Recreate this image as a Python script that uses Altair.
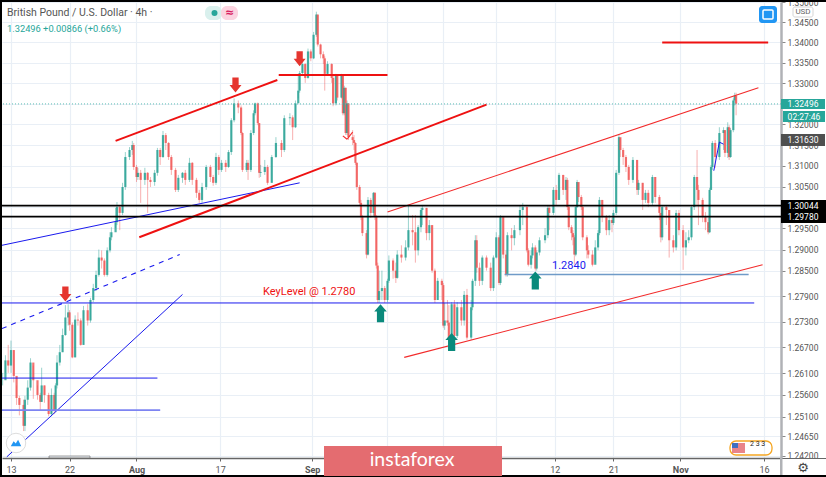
import altair as alt
import pandas as pd

# 4h bar number (0 = 13 Jul)
bars = [-6,-4,-2,0,2,4,6,9,10,12,14,16,19,21,22,24,27,29,31,32,33,35,37,39,41,42,44,46,48,50,52,55,57,59,61,63,65,67,69,71,72,75,76,78,80,82,85,87,88,90,91,93,96,98,100,103,105,107,109,111,113,115,118,120,123,125,128,130,133,135,137,140,143,145,147,149,151,154,156,158,160,163,165,166,169,170,172,174,175,177,178,179,182,184,187,190,194,196,200,202,204,206,207,209,211,213,215,217,219,220,222,224,225,227,230,231,233,234,237,238,239,240,241,242,245,246,247,248,250,251,252,255,256,258,260,261,262,263,264,266,268,270,271,274,276,277,280,283,285,288,290,292,294,295,298,300,302,304,306,309,310,311,313,314,316,318,320,323,325,327,330,331,333,334,336,338,341,344,346,348,350,351,353,355,356,359,361,365,367,370,371,373,374,376,377,379,383,385,386,389,391,393,396,398,399,400,402,403,404,405,406,407,409,410,413,414,417,419,421,422,424,427,429,431,432,434,436,437,439,441,443,446,449,450,453,455,457,460,462,465,466,467,470,472,475,477,479,482,484,486,488,490,492,493,496,498,500,501,502,503,505,508,511,512,514,515,516,518,519,520]
closes = [12594,12640,12628,12664,12604,12553,12537,12489,12549,12577,12635,12594,12560,12544,12582,12560,12516,12560,12525,12582,12635,12659,12699,12740,12752,12723,12647,12735,12733,12676,12757,12733,12781,12809,12840,12881,12874,12840,12898,12929,12941,12965,13001,12987,13049,13121,13138,13150,13097,13073,13083,13066,13083,13066,13061,13083,13138,13121,13174,13155,13121,13090,13042,13071,13083,13066,13107,13066,13035,13018,13049,13097,13073,13059,13121,13090,13107,13097,13133,13210,13251,13241,13179,13090,13107,13090,13179,13227,13251,13203,13083,13085,13097,13059,13121,13155,13138,13215,13217,13193,13251,13282,13325,13347,13313,13378,13361,13419,13469,13395,13371,13361,13323,13347,13313,13251,13318,13265,13318,13227,13289,13179,13251,13169,13162,13155,13107,13049,13011,12977,12939,12888,13018,12987,13035,12977,12862,12781,12802,12809,12781,12826,12874,12850,12833,12888,12881,12905,12946,12941,12898,12953,12994,12999,12939,12958,12850,12781,12826,12816,12721,12733,12728,12688,12771,12697,12764,12733,12793,12693,12764,12826,12922,12857,12826,12881,12857,12809,12881,12929,12821,12977,12888,12840,12934,12927,12946,12994,13001,12898,12864,12886,12905,12855,12893,12922,12934,12999,12987,13042,13018,13078,13042,13066,13001,12953,12939,12929,12888,13001,13061,13025,13001,12929,12898,12888,12864,12905,12939,13018,12977,12946,12970,12963,12987,13083,13169,13138,13121,13097,13066,13114,13042,13059,13018,13035,13011,13073,13025,12987,12929,13001,12994,12922,12905,12987,12946,12905,12922,12929,13001,13073,13042,13018,12977,12965,12941,13042,13097,13155,13121,13179,13186,13131,13193,13121,13186,13258,13270,13250]
highs = [12611,12652,12676,12686,12664,12582,12558,12549,12558,12594,12645,12628,12582,12565,12623,12582,12565,12575,12565,12587,12652,12676,12714,12769,12771,12757,12728,12745,12752,12738,12767,12771,12786,12819,12850,12900,12898,12879,12905,12941,12953,12999,13013,13006,13059,13133,13145,13160,13155,13102,13095,13090,13095,13085,13073,13090,13143,13143,13184,13179,13157,13126,13095,13078,13085,13090,13119,13109,13071,13042,13059,13102,13102,13078,13131,13126,13114,13114,13138,13215,13263,13258,13246,13181,13114,13114,13186,13234,13253,13253,13203,13102,13114,13102,13126,13169,13162,13222,13227,13222,13258,13318,13330,13359,13349,13385,13383,13426,13476,13467,13397,13378,13366,13354,13349,13318,13323,13320,13323,13318,13294,13289,13258,13251,13186,13174,13157,13109,13054,13018,12982,12946,13025,13023,13037,13037,12982,12869,12850,12850,12814,12831,12886,12879,12869,12898,12910,12922,13006,12982,12982,12958,12999,13006,12999,12970,12958,12855,12833,12831,12821,12774,12781,12769,12776,12781,12776,12781,12802,12807,12781,12831,12934,12934,12869,12886,12886,12869,12886,12941,12934,12982,12975,12898,12941,12951,12958,13006,13011,13006,12903,12898,12915,12910,12898,12929,12951,13006,13006,13049,13054,13083,13078,13073,13071,13006,12958,12946,12934,13006,13066,13059,13030,13006,12934,12910,12898,12922,12946,13025,13018,12982,12982,12975,12994,13090,13174,13167,13143,13126,13102,13121,13114,13066,13059,13042,13042,13078,13073,13030,12987,13006,13006,12994,12934,12994,12994,12958,12941,12946,13006,13078,13138,13054,13023,12989,12975,13047,13102,13160,13162,13193,13193,13186,13205,13198,13191,13263,13277,13277]
lows = [12582,12611,12611,12611,12589,12537,12513,12477,12477,12537,12570,12551,12549,12525,12544,12542,12511,12511,12516,12520,12575,12628,12659,12697,12721,12709,12645,12647,12721,12674,12676,12721,12728,12776,12802,12836,12855,12836,12836,12893,12922,12951,12958,12946,12982,13042,13114,13126,13090,13061,13066,13011,13054,12987,13049,13052,13076,13102,13119,13138,13114,13078,13037,13037,13059,13054,13061,13054,13023,13011,13011,13042,13061,13052,13054,13078,13085,13085,13095,13126,13205,13227,13174,13085,13085,13066,13085,13174,13222,13198,13071,13073,13078,13054,13059,13119,13121,13133,13198,13162,13191,13263,13277,13318,13301,13311,13354,13359,13414,13390,13361,13347,13282,13318,13301,13244,13246,13258,13263,13222,13222,13174,13174,13162,13150,13138,13102,13042,13006,12970,12932,12879,12886,12975,12980,12970,12855,12774,12774,12781,12774,12776,12821,12831,12821,12831,12869,12874,12898,12910,12869,12886,12941,12958,12922,12922,12845,12774,12781,12781,12716,12711,12721,12681,12688,12688,12692,12721,12721,12688,12688,12757,12814,12845,12814,12816,12850,12802,12802,12879,12816,12816,12879,12836,12836,12898,12910,12934,12958,12893,12860,12855,12879,12850,12850,12886,12915,12927,12946,12982,13006,13018,13030,13018,12994,12946,12922,12910,12864,12884,12999,13013,12994,12922,12879,12879,12860,12869,12898,12934,12965,12934,12934,12941,12958,12982,13078,13121,13102,13085,13054,13059,13030,13030,12994,13011,13001,13006,13011,12970,12917,12922,12958,12881,12893,12898,12934,12852,12886,12915,12922,12994,13006,12958,12965,12946,12936,12939,13042,13090,13095,13114,13138,13121,13119,13114,13119,13181,13246,13222]

# Price scale and tick values
price_ticks = [1.35,1.345,1.34,1.335,1.33,1.325,1.32,1.315,1.31,1.305,1.30,1.295,1.29,1.285,1.279,1.273,1.267,1.261,1.256,1.251,1.2465,1.242]
covered_prices = [1.325, 1.30]
time_ticks = [0,42,90,150,216,270,310,348,390,432,480,540]
time_labels = ["13","22","Aug","17","Sep","","","","12","21","Nov","16"]

# Drawn lines: bar start, bar end, price start, price end
thick_red = {"b1":[75,192,92,467],"b2":[191,270,341,543],"p1":[1.3160,1.3320,1.2929,1.3400],"p2":[1.3308,1.3320,1.3248,1.3400]}
thin_red = {"b1":[270,282,238,241],"b2":[536,539,241,245],"p1":[1.2989,1.2647,1.3172,1.3164],"p2":[1.3289,1.2864,1.3164,1.3181]}
thin_blue = {"b1":[-6.5,-3,-6.5,-6.5,504,508],"b2":[207,123,533,105,508,511],"p1":[1.2910,1.2418,1.2774,1.2599,1.3088,1.3157],"p2":[1.3059,1.2794,1.2774,1.2599,1.3157,1.3152]}
dashed_blue = {"b1":[-6.5],"b2":[121],"p1":[1.2714],"p2":[1.2888]}
pale_blue = {"b1":[-6.5],"b2":[107],"p1":[1.2525],"p2":[1.2525]}
steel_blue = {"b1":[354],"b2":[529],"p1":[1.2841],"p2":[1.2841]}
levels = [1.30044, 1.29780]
last_price = [1.32496]

down_arrows = {"b":[161,39,207],"p":[1.3296,1.2795,1.3360]}
up_arrows = {"b":[265,316,376],"p":[1.2750,1.2683,1.2827]}

opens = [closes[0]] + closes[:-1]
df = pd.DataFrame({"bar":bars,"o":opens,"c":closes,"h":highs,"l":lows})
for k in "ochl":
    df[k] = df[k] / 10000
df["dir"] = ["up" if c >= o else "down" for c, o in zip(df.c, df.o)]

xs = alt.Scale(domain=[-6.45,552.2], nice=False, zero=False)
ys = alt.Scale(type="log", domain=[1.24154,1.35], nice=False, zero=False)
col = alt.Color("dir:N", scale=alt.Scale(domain=["up","down"], range=["#1f9e90","#f0504f"]), legend=None)

GRID = "#e9eff6"
order = ",".join(str(v) for v in time_ticks)
names = ",".join("'%s'" % v for v in time_labels)
hidden = "||".join(f"datum.value=={v}" for v in covered_prices)
x_axis = alt.Axis(values=time_ticks, labelExpr=f"[{names}][indexof([{order}],datum.value)]",
                  title=None, grid=True, gridColor=GRID, gridWidth=1.2, tickColor="#666", tickSize=3,
                  domainColor="#666", domainWidth=1.5, labelColor="#555", labelFont="Roboto", labelFontSize=9,
                  labelPadding=4, labelFontWeight={"condition":{"test":"datum.value==90||datum.value==216||datum.value==348||datum.value==480","value":"bold"},"value":"normal"})
y_axis = alt.Axis(orient="right", values=price_ticks, labelExpr=f"({hidden})?'':format(datum.value,'.5f')", title=None, grid=True, gridColor=GRID, gridWidth=1,
                  tickColor="#888", tickSize=4, domainColor="#b0b2b6", domainWidth=2.5, labelColor="#555",
                  labelFont="Roboto", labelFontSize=8.5, labelPadding=2)

wicks = alt.Chart(df).mark_rule(strokeWidth=1, opacity=0.45, clip=True).encode(
    x=alt.X("bar:Q", scale=xs, axis=x_axis), y=alt.Y("h:Q", scale=ys, axis=y_axis), y2="l:Q", color=col)
bodies = alt.Chart(df).mark_rule(strokeWidth=2.2, opacity=0.8, clip=True).encode(
    x=alt.X("bar:Q", scale=xs, axis=x_axis), y=alt.Y("o:Q", scale=ys, axis=y_axis), y2="c:Q", color=col)

def trend(data, colour, width, **kw):
    return alt.Chart(pd.DataFrame(data)).mark_rule(color=colour, strokeWidth=width, clip=True, **kw).encode(
        x=alt.X("b1:Q", scale=xs, axis=x_axis), x2="b2:Q", y=alt.Y("p1:Q", scale=ys, axis=y_axis), y2="p2:Q")

def hline(values, colour, width, **kw):
    return alt.Chart(pd.DataFrame({"p":values})).mark_rule(color=colour, strokeWidth=width, **kw).encode(
        y=alt.Y("p:Q", scale=ys, axis=y_axis))

DOWN = "M-0.42,-1 L0.42,-1 L0.42,0 L0.8,0 L0,1 L-0.8,0 L-0.42,0 Z"
UP = "M0,-1 L0.7,-0.2 L0.4,-0.2 L0.4,1 L-0.4,1 L-0.4,-0.2 L-0.7,-0.2 Z"

def arrows(data, shape, colour, size):
    return alt.Chart(pd.DataFrame(data)).mark_point(shape=shape, filled=True, color=colour, opacity=1, size=size).encode(
        x=alt.X("b:Q", scale=xs, axis=x_axis), y=alt.Y("p:Q", scale=ys, axis=y_axis))

# Page furniture, placed in page pixels; the plot area starts at (2, 2)
OX, OY = 2, 2

def box(x0, y0, x1, y1, fill=None, stroke=None, sw=1, radius=0, op=1):
    kw = {}
    if fill: kw["fill"] = fill
    else: kw["fillOpacity"] = 0
    if stroke:
        kw["stroke"] = stroke; kw["strokeWidth"] = sw
    return alt.Chart().mark_rect(cornerRadius=radius, opacity=op, **kw).encode(
        x=alt.value(x0-OX), x2=alt.value(x1-OX), y=alt.value(y0-OY), y2=alt.value(y1-OY))

def label(txt, x, y, size=9, colour="#555", align="left", font="Roboto", weight="normal"):
    return alt.Chart().mark_text(text=txt, align=align, baseline="middle", fontSize=size, color=colour, font=font, fontWeight=weight).encode(
        x=alt.value(x-OX), y=alt.value(y-OY))

def glyph(x, y, shape, size, fill, stroke=None, sw=1):
    kw = {"stroke": stroke, "strokeWidth": sw} if stroke else {}
    return alt.Chart().mark_point(shape=shape, filled=True, fill=fill, size=size, opacity=1, **kw).encode(
        x=alt.value(x-OX), y=alt.value(y-OY))

TEAL = "#26a69a"
layers = [
    wicks, bodies,
    hline(last_price, "#5cbdb3", 1, strokeDash=[1,2]),
    trend(thin_blue, "#1a1aee", 1),
    trend(dashed_blue, "#1a1aee", 1.1, strokeDash=[5,5]),
    trend(pale_blue, "#7d84f2", 1.8),
    trend(steel_blue, "#6f9bc8", 1.6),
    trend(thin_red, "#f22a2a", 1.1),
    trend(thick_red, "#ee1111", 2),
    hline(levels, "#000000", 1.8),
    arrows(down_arrows, DOWN, "#e5352f", 225),
    arrows(up_arrows, UP, "#0a8a7c", 324),
    label("KeyLevel @ 1.2780", 263, 292, 11, "#ee1111"),
    label("1.2840", 552, 266, 11, "#1a1aee"),
    label("British Pound / U.S. Dollar · 4h ·", 7, 13, 10.5, "#555"),
    label("1.32496 +0.00866 (+0.66%)", 7, 29, 9.3, TEAL),
    box(205,6,222,20,"#d9f0ed",radius=6),
    box(221,6,238,20,"#fbd3e0",radius=6),
    glyph(214.5,13,"circle",36,TEAL),
    label("≈",229.5,13,11,"#d81b60",align="center",font="DejaVu Sans",weight="bold"),
    box(759,6,777,23,"#2196f3",radius=3),
    box(763,10,773,19,None,"#ffffff",1.5,radius=1),
    box(793,7,813,17,None,"#d5d5d5",1,radius=2),
    label("USD",803,12,8,"#666",align="center"),
    box(781,99,825,109,TEAL),
    label("1.32496",803,104,8.5,"#ffffff",align="center"),
    box(783,111,825,122,TEAL),
    label("02:27:46",804,116.5,8.5,"#ffffff",align="center"),
    box(781,134,825,146,"#4f4f4f"),
    label("1.31630",803,140,8.5,"#ffffff",align="center"),
    box(781,200,826,223,"#000000"),
    label("1.30044",803,206,8.5,"#ffffff",align="center"),
    label("1.29780",803,217,8.5,"#ffffff",align="center"),
    box(49,456,90,458,None,"#777",0.7),
    glyph(16,443,"circle",380,"#ffffff","#dddddd",1),
    glyph(16,443,"M-1,0.6 L-0.45,-0.35 L-0.05,0.1 L0.4,-0.6 L1,0.6 Z",110,"#2196f3"),
    box(730,441,772,455,None,"#f5a623",1.3,radius=6),
    box(732,443,745,453,"#e9848a"),
    box(732,443,738,448,"#3f6fc0"),
    label("2 3   3",750,444,7,"#222"),
    box(780,458,826,459,"#666"),
    box(780,458,782.5,475,"#b0b2b6"),
    label("⚙",803,468,13,"#444",align="center",font="DejaVu Sans"),
    box(0,475,826,477,"#000000"),
    box(0,0,826,2,"#000000"),
    box(0,0,2,477,"#000000"),
    box(324,446,502,476,"#e46c70"),
    label("instaforex",412,460,19.5,"#ffffff",align="center",font="Lato"),
]

chart = alt.layer(*layers).properties(
    width=779, height=456,
    padding={"left":2,"top":2,"right":45,"bottom":19},
    autosize=alt.AutoSizeParams(type="none"),
    background="#ffffff",
).configure_view(stroke=None)

chart.save("out.html", embed_options={"renderer": "svg", "actions": False, "defaultStyle": "body{margin:0;overflow:hidden}"})
